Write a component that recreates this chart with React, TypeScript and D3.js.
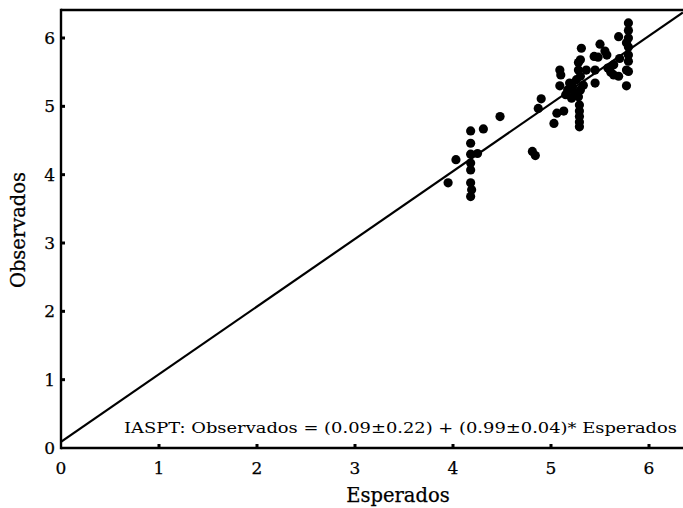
import React from "react";
import * as d3 from "d3";

const expected: number[] = [
  3.95, 4.03, 4.18, 4.18, 4.18, 4.25, 4.18, 4.18, 4.18, 4.19, 4.18, 4.31, 4.48,
  4.81, 4.84, 4.90, 4.87, 5.06, 5.03, 5.13, 5.09, 5.10, 5.09,
  5.29, 5.29, 5.29, 5.29, 5.29,
  5.17, 5.19, 5.22, 5.24, 5.28, 5.30, 5.33, 5.15, 5.21, 5.26,
  5.30, 5.28, 5.30, 5.28, 5.31, 5.36, 5.44, 5.45, 5.50, 5.55, 5.57, 5.48,
  5.64, 5.70, 5.58, 5.61, 5.64, 5.69, 5.45, 5.69,
  5.79, 5.79, 5.79, 5.77, 5.79, 5.79, 5.79, 5.77, 5.79, 5.77,
];
const observed: number[] = [
  3.88, 4.22, 4.64, 4.46, 4.30, 4.31, 4.17, 4.07, 3.88, 3.78, 3.68, 4.67, 4.85,
  4.34, 4.28, 5.11, 4.97, 4.90, 4.75, 4.93, 5.53, 5.46, 5.30,
  5.02, 4.93, 4.85, 4.77, 4.70,
  5.24, 5.34, 5.29, 5.20, 5.14, 5.24, 5.31, 5.17, 5.12, 5.39,
  5.44, 5.53, 5.68, 5.64, 5.85, 5.53, 5.73, 5.34, 5.91, 5.81, 5.75, 5.72,
  5.61, 5.70, 5.56, 5.50, 5.46, 5.44, 5.53, 6.02,
  6.22, 6.11, 6.00, 5.93, 5.87, 5.75, 5.66, 5.53, 5.51, 5.30,
];
const xTicks: number[] = [0, 1, 2, 3, 4, 5, 6];
const yTicks: number[] = [0, 1, 2, 3, 4, 5, 6];
const intercept = 0.09;
const slope = 0.99;
const annotation = "IASPT: Observados = (0.09\u00b10.22) + (0.99\u00b10.04)* Esperados";

const W = 683;
const H = 508;
const FONT = "'DejaVu Serif', serif";

export default function App() {
  const x = d3.scaleLinear().domain([0, 6]).range([61, 649]);
  const y = d3.scaleLinear().domain([0, 6]).range([448, 38]);
  const xMax = x.invert(W);
  const yMax = y.invert(10);
  const lineGen = d3
    .line<number>()
    .x((d) => x(d))
    .y((d) => y(intercept + slope * d));
  const lx = [0, xMax];
  const textStroke = { stroke: "#000", strokeWidth: 0.25 };
  return (
    <svg
      width={W}
      height={H}
      style={{ position: "absolute", left: 0, top: 0, background: "#fff" }}
    >
      <defs>
        <clipPath id="plotclip">
          <rect x={x(0)} y={y(yMax)} width={W - x(0)} height={y(0) - y(yMax)} />
        </clipPath>
      </defs>
      <g clipPath="url(#plotclip)">
        <path d={lineGen(lx) || ""} fill="none" stroke="#000" strokeWidth={2.2} />
        {expected.map((e, i) => (
          <circle key={i} cx={x(e)} cy={y(observed[i])} r={4.6} fill="#000" />
        ))}
      </g>
      <line x1={x(0)} x2={W} y1={y(0)} y2={y(0)} stroke="#000" strokeWidth={2.4} />
      <line x1={x(0)} x2={W} y1={y(yMax)} y2={y(yMax)} stroke="#000" strokeWidth={2.4} />
      <line x1={x(0)} x2={x(0)} y1={y(yMax) - 1.2} y2={y(0) + 1.2} stroke="#000" strokeWidth={2.4} />
      {xTicks.map((t) => (
        <g key={"xt" + t}>
          {t > 0 && (
            <rect x={x(t) - 1.5} y={y(0) - 4} width={3} height={3} fill="#000" />
          )}
          <text
            x={x(t)}
            y={474}
            textAnchor="middle"
            fontFamily={FONT}
            fontSize={17}
            fill="#000"
            {...textStroke}
          >
            {t}
          </text>
        </g>
      ))}
      {yTicks.map((t) => (
        <g key={"yt" + t}>
          {t > 0 && (
            <rect x={x(0) + 1} y={y(t) - 1.5} width={3} height={3} fill="#000" />
          )}
          <text
            x={55}
            y={y(t) + 6}
            textAnchor="end"
            fontFamily={FONT}
            fontSize={17}
            fill="#000"
            {...textStroke}
          >
            {t}
          </text>
        </g>
      ))}
      <text
        x={398}
        y={502}
        textAnchor="middle"
        fontFamily={FONT}
        fontSize={19.5}
        fill="#000"
        {...textStroke}
      >
        Esperados
      </text>
      <text
        transform={`translate(25,230) rotate(-90)`}
        textAnchor="middle"
        fontFamily={FONT}
        fontSize={19.5}
        fill="#000"
        {...textStroke}
      >
        Observados
      </text>
      <text
        x={124}
        y={433}
        fontFamily={FONT}
        fontSize={15.5}
        fill="#000"
        textLength={553}
        lengthAdjust="spacingAndGlyphs"
      >
        {annotation}
      </text>
    </svg>
  );
}
